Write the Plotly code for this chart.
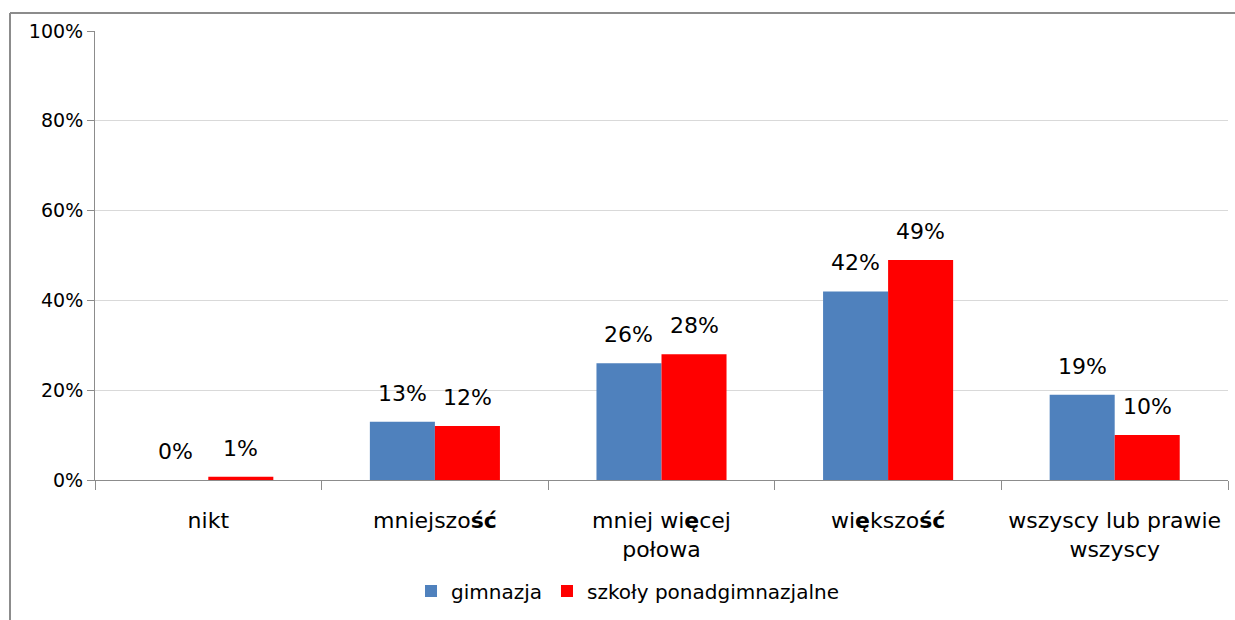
import plotly.graph_objects as go

categories = ["nikt", "mniejszo<b>ść</b>", "mniej wi<b>ę</b>cej<br>połowa",
              "wi<b>ę</b>kszo<b>ść</b>", "wszyscy lub prawie<br>wszyscy"]
series_names = ["gimnazja", "szkoły ponadgimnazjalne"]
gimnazja = [0, 13, 26, 42, 19]
ponadgim = [0.7, 12, 28, 49, 10]
gimnazja_labels = ["0%", "13%", "26%", "42%", "19%"]
ponadgim_labels = ["1%", "12%", "28%", "49%", "10%"]
y_ticks = [0, 20, 40, 60, 80, 100]

colors = ["#4F81BD", "#FF0000"]
FONT = "DejaVu Sans"
BARGAP = 0.426

fig = go.Figure()
for name, vals, col in zip(series_names, [gimnazja, ponadgim], colors):
    fig.add_trace(go.Bar(x=categories, y=vals, name=name, marker_color=col,
                         marker_line_width=0))

half = (1 - BARGAP) / 4
for s, (vals, labs) in enumerate([(gimnazja, gimnazja_labels), (ponadgim, ponadgim_labels)]):
    off = -half if s == 0 else half
    for i, (v, t) in enumerate(zip(vals, labs)):
        fig.add_annotation(x=i + off, y=v, text=t, showarrow=False,
                           yanchor="bottom", yshift=14, xref="x", yref="y",
                           font=dict(family=FONT, size=22, color="#000"))

# chart border (top and left edges)
fig.add_shape(type="line", xref="paper", yref="paper", x0=-85/1133, x1=1.1,
              y0=1 + 18/449, y1=1 + 18/449, line=dict(color="#8c8c8c", width=2))
fig.add_shape(type="line", xref="paper", yref="paper", x0=-85/1133, x1=-85/1133,
              y0=1 + 18/449, y1=-0.4, line=dict(color="#8c8c8c", width=2))

fig.update_layout(
    width=1235, height=620,
    margin=dict(l=95, r=7, t=31, b=140, autoexpand=False),
    paper_bgcolor="white", plot_bgcolor="white",
    barmode="group", bargap=BARGAP, bargroupgap=0,
    font=dict(family=FONT, color="#000"),
    showlegend=True,
    legend=dict(orientation="h", x=0.47, xanchor="center", y=-0.247, yanchor="middle",
                font=dict(family=FONT, size=20, color="#000"), itemwidth=30,
                traceorder="normal"),
    xaxis=dict(type="category", showgrid=False, showline=True, linecolor="#8c8c8c",
               linewidth=1, ticks="outside", tickson="boundaries", ticklen=9,
               tickcolor="#8c8c8c", tickfont=dict(family=FONT, size=22, color="#000"),
               ticklabelstandoff=21, automargin=False),
    yaxis=dict(range=[0, 100], tickvals=y_ticks, ticktext=[f"{v}%" for v in y_ticks],
               showgrid=True, gridcolor="#d9d9d9", gridwidth=1, showline=True,
               linecolor="#8c8c8c", linewidth=1, ticks="outside", ticklen=7,
               tickcolor="#8c8c8c", zeroline=False, automargin=False,
               tickfont=dict(family=FONT, size=19, color="#000")),
)
fig.write_html("out.html", config={"displayModeBar": False},
               post_script="document.body.style.margin='0';document.body.style.overflow='hidden';")
